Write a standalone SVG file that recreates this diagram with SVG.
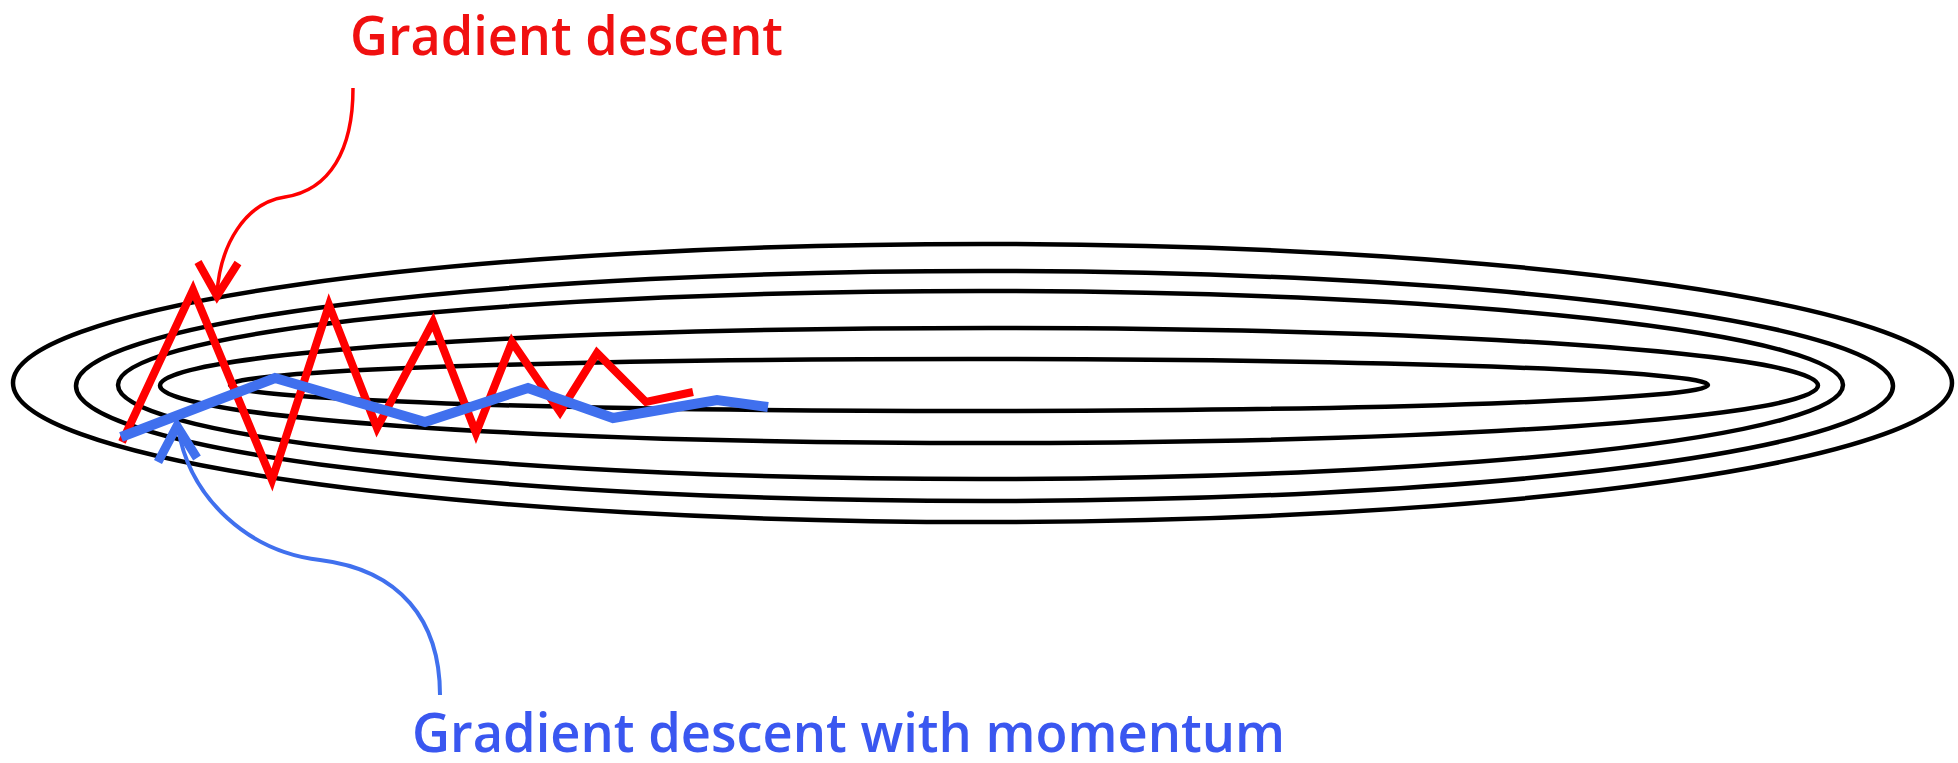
<svg xmlns="http://www.w3.org/2000/svg" width="1958" height="763" viewBox="0 0 1958 763">
<style>
.contour{fill:none;stroke:#000;stroke-width:4.5}
.gd{fill:none;stroke:#ff0000;stroke-width:8;stroke-linejoin:miter;stroke-linecap:butt}
.mom{fill:none;stroke:#4070ee;stroke-width:10;stroke-linejoin:miter;stroke-linecap:butt}
.lbl{font-family:"Open Sans","Liberation Sans",sans-serif;font-size:54px;font-weight:600}
</style>
<rect width="1958" height="763" fill="#fff"/>
<g id="contours">
<ellipse class="contour" cx="982.5" cy="383" rx="969.5" ry="139"/>
<ellipse class="contour" cx="984.5" cy="386" rx="908.5" ry="115"/>
<ellipse class="contour" cx="980.5" cy="385" rx="862.5" ry="94"/>
<ellipse class="contour" cx="989" cy="385.5" rx="829" ry="57.5"/>
<ellipse class="contour" cx="969" cy="385" rx="739" ry="26"/>
</g>
<g id="gradient-descent-path">
<polyline class="gd" points="122,442 193,290 272,480 329,305 377,428 433,322 476,433 512,342 560,412 597,353 646,402 693,392"/>
</g>
<g id="momentum-path">
<polyline class="mom" points="121,437 275,378 425,422 528,388 613,418 717,400 768,407"/>
</g>
<g id="connectors">
<path d="M353,88 C353,150 330,190 285,197 C245,203 220,245 217,294" fill="none" stroke="#ff0000" stroke-width="3.5"/>
<polyline points="198,262 217,296 238,263" fill="none" stroke="#ff0000" stroke-width="8"/>
<path d="M440,695 C440,620 400,570 320,560 C250,552 190,500 178,428" fill="none" stroke="#4070ee" stroke-width="4"/>
<polyline points="158,462 177,426 197,458" fill="none" stroke="#4070ee" stroke-width="9"/>
</g>
<g id="label-gd">
<text class="lbl" x="350" y="55" fill="#f01010" textLength="433" lengthAdjust="spacingAndGlyphs">Gradient descent</text>
</g>
<g id="label-momentum">
<text class="lbl" x="412" y="752" fill="#3a57f0" textLength="873" lengthAdjust="spacingAndGlyphs">Gradient descent with momentum</text>
</g>
</svg>
